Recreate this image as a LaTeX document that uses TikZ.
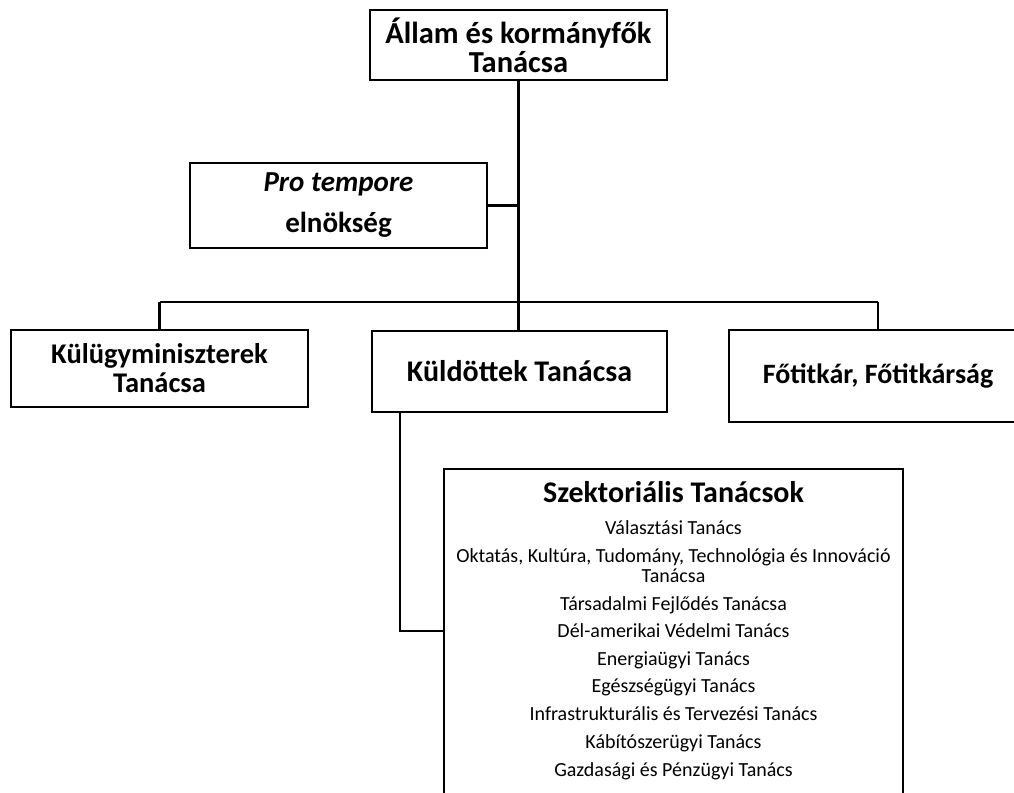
\documentclass[tikz,border=0pt]{standalone}
\usepackage{fontspec}
\setmainfont{Carlito}
\usetikzlibrary{positioning,calc}
\tikzstyle{doboz} = [draw,line width=2.8pt,inner sep=0pt,align=center]
\tikzstyle{vonal} = [line width=2.8pt]

\begin{document}
\begin{tikzpicture}[x=1pt,y=-1pt,
  cim/.style={font=\fontsize{#1}{29}\selectfont\bfseries},cim/.default=29,
  tag/.style={font=\fontsize{20}{20}\selectfont,align=center,inner sep=0pt,anchor=base}]

 \clip (0,0) rectangle (1014,792);

 % felso szint
 \node [doboz,cim=30.5,minimum width=297pt,minimum height=70pt] (allam) at (518.5,45) {Állam és kormányfők\\Tanácsa};
 \node [doboz,cim,minimum width=297pt,minimum height=85pt] (protempore) at (338.5,205.5) {\textit{Pro tempore}\\[12pt]elnökség};

 % masodik szint
 \node [doboz,cim=28.5,minimum width=297pt,minimum height=77pt] (kulugy) at (159.5,368.5) {Külügyminiszterek\\Tanácsa};
 \node [doboz,cim=30,minimum width=295pt,minimum height=81pt] (kuldottek) at (519.5,371.5) {Küldöttek Tanácsa};
 \node [doboz,cim=28,minimum width=298pt,minimum height=92pt] (fotitkar) at (878,376) {Főtitkár, Főtitkárság};

 % szektorialis tanacsok
 \node [doboz,minimum width=459pt,minimum height=346pt] (szekt) at (673.5,642) {};
 \node [cim=30,inner sep=0pt] (szektcim) at (673.5,492) {Szektoriális Tanácsok};
 \node [tag] (szt1) at (673.5,534) {Választási Tanács};
 \node [tag] (szt2) at (673.5,582) {Oktatás, Kultúra, Tudomány, Technológia és Innováció\\Tanácsa};
 \node [tag] (szt3) at (673.5,610) {Társadalmi Fejlődés Tanácsa};
 \node [tag] (szt4) at (673.5,637.5) {Dél-amerikai Védelmi Tanács};
 \node [tag] (szt5) at (673.5,665) {Energiaügyi Tanács};
 \node [tag] (szt6) at (673.5,692.5) {Egészségügyi Tanács};
 \node [tag] (szt7) at (673.5,720) {Infrastrukturális és Tervezési Tanács};
 \node [tag] (szt8) at (673.5,748) {Kábítószerügyi Tanács};
 \node [tag] (szt9) at (673.5,776) {Gazdasági és Pénzügyi Tanács};

 % vonalak
 \coordinate (elagazas) at (518.5,302);
 \coordinate (balveg) at (159.5,302);
 \coordinate (kanyar) at (400,631);

 \draw [vonal] (allam.south) -- (elagazas);
 \draw [vonal] (protempore.east) -- (protempore.east -| allam.south);
 \draw [vonal] (balveg) -- (elagazas -| fotitkar.north);
 \draw [vonal] (balveg) -- (kulugy.north);
 \draw [vonal] (elagazas) -- (elagazas |- kuldottek.north);
 \draw [vonal] (elagazas -| fotitkar.north) -- (fotitkar.north);
 \draw [vonal] (kanyar |- kuldottek.south) -- (kanyar) -- (kanyar -| szekt.west);
\end{tikzpicture}
\end{document}
